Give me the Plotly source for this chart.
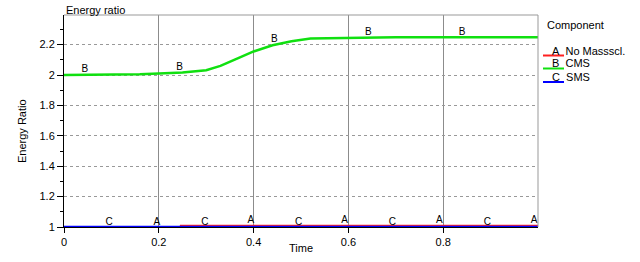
import numpy as np
import plotly.graph_objects as go

# ---- data ----
t_cms = [0, 0.1, 0.16, 0.2, 0.25, 0.3, 0.33, 0.37, 0.4, 0.44, 0.48, 0.52, 0.58, 0.6, 0.7, 0.8, 0.9, 1.0]
v_cms = [2.0, 2.002, 2.005, 2.01, 2.016, 2.032, 2.06, 2.115, 2.155, 2.196, 2.222, 2.24, 2.243, 2.247, 2.248, 2.248, 2.248, 2.248]
t_nomass = [0, 0.245, 0.246, 1.0]
v_nomass = [1.0, 1.0, 1.01, 1.01]
t_sms = [0, 1.0]
v_sms = [1.0, 1.0]

lab_a = [0.196, 0.394, 0.592, 0.792, 0.992]
lab_b = [0.044, 0.244, 0.444, 0.642, 0.84]
lab_c = [0.095, 0.297, 0.495, 0.693, 0.893]

x_ticks = [0, 0.2, 0.4, 0.6, 0.8]
x_tick_labels = ["0", "0.2", "0.4", "0.6", "0.8"]
y_ticks = [1, 1.2, 1.4, 1.6, 1.8, 2, 2.2]
y_tick_labels = ["1", "1.2", "1.4", "1.6", "1.8", "2", "2.2"]

legend_names = ["No Massscl.", "CMS", "SMS"]
legend_letters = ["A", "B", "C"]
colors = ["#ff2020", "#10e010", "#0000ff"]

FONT = "Liberation Sans, Arial, sans-serif"

fig = go.Figure()
fig.add_trace(go.Scatter(x=t_nomass, y=v_nomass, mode="lines", line=dict(color=colors[0], width=1.5), cliponaxis=False))
fig.add_trace(go.Scatter(x=t_cms, y=v_cms, mode="lines", line=dict(color=colors[1], width=2.5), cliponaxis=False))
fig.add_trace(go.Scatter(x=t_sms, y=v_sms, mode="lines", line=dict(color=colors[2], width=2.5), cliponaxis=False))

for labs, tt, vv, letter in [(lab_a, t_nomass, v_nomass, "A"), (lab_b, t_cms, v_cms, "B"), (lab_c, t_sms, v_sms, "C")]:
    ys = np.interp(labs, tt, vv)
    fig.add_trace(go.Scatter(x=labs, y=ys, mode="text", text=[letter] * len(labs),
                             textposition="top center", cliponaxis=False,
                             textfont=dict(family=FONT, size=10, color="#000")))

# plot area in pixels
L, R, T, B = 64, 538, 15, 227
W, H = 640, 262

def px(x):
    return (x - L) / (R - L)

def py(y):
    return (B - y) / (B - T)

ann = []
ann.append(dict(text="Energy ratio", x=px(64), y=py(10), xref="paper", yref="paper",
                xanchor="left", yanchor="middle", showarrow=False, font=dict(family=FONT, size=11, color="#000")))
ann.append(dict(text="Energy Ratio", x=px(22), y=py(131), xref="paper", yref="paper", textangle=-90,
                xanchor="center", yanchor="middle", showarrow=False, font=dict(family=FONT, size=11, color="#000")))
ann.append(dict(text="Time", x=px(301), y=py(248), xref="paper", yref="paper",
                xanchor="center", yanchor="middle", showarrow=False, font=dict(family=FONT, size=11, color="#000")))
ann.append(dict(text="Component", x=px(545), y=py(25), xref="paper", yref="paper",
                xanchor="left", yanchor="middle", showarrow=False, font=dict(family=FONT, size=11, color="#000")))

shapes = []
leg_text_y = [50.5, 63.5, 77]
leg_line_y = [55.5, 68.5, 82]
for i in range(3):
    ann.append(dict(text=legend_letters[i] + "\u00a0\u00a0" + legend_names[i], x=px(550), y=py(leg_text_y[i]),
                    xref="paper", yref="paper", xanchor="left", yanchor="middle", showarrow=False,
                    font=dict(family=FONT, size=11, color="#000")))
    shapes.append(dict(type="line", xref="paper", yref="paper", x0=px(543), x1=px(564),
                       y0=py(leg_line_y[i]), y1=py(leg_line_y[i]), line=dict(color=colors[i], width=2)))

# frame top/right
shapes.append(dict(type="line", xref="paper", yref="paper", x0=0, x1=1, y0=1, y1=1, line=dict(color="#999", width=1)))
shapes.append(dict(type="line", xref="paper", yref="paper", x0=1, x1=1, y0=0, y1=1, line=dict(color="#999", width=1)))

fig.update_layout(
    width=W, height=H,
    margin=dict(l=L, r=W - R, t=T, b=H - B),
    paper_bgcolor="white", plot_bgcolor="white",
    showlegend=False,
    annotations=ann, shapes=shapes,
    font=dict(family=FONT, size=11, color="#000"),
)
fig.update_xaxes(range=[0, 1], tickvals=x_ticks, ticktext=x_tick_labels,
                 showgrid=True, gridcolor="#8c8c8c", gridwidth=1,
                 showline=True, linecolor="#000", linewidth=1,
                 ticks="outside", ticklen=5, tickcolor="#000",
                 zeroline=False, tickfont=dict(family=FONT, size=11))
fig.update_yaxes(range=[1, 2.395], tickvals=y_ticks, ticktext=y_tick_labels,
                 showgrid=True, gridcolor="#999", gridwidth=1, griddash="dot",
                 showline=True, linecolor="#000", linewidth=1,
                 ticks="outside", ticklen=6, tickcolor="#000",
                 minor=dict(dtick=0.1, ticks="outside", ticklen=3, tickcolor="#000", showgrid=False),
                 zeroline=False, tickfont=dict(family=FONT, size=11))

fig.write_html("out.html")
